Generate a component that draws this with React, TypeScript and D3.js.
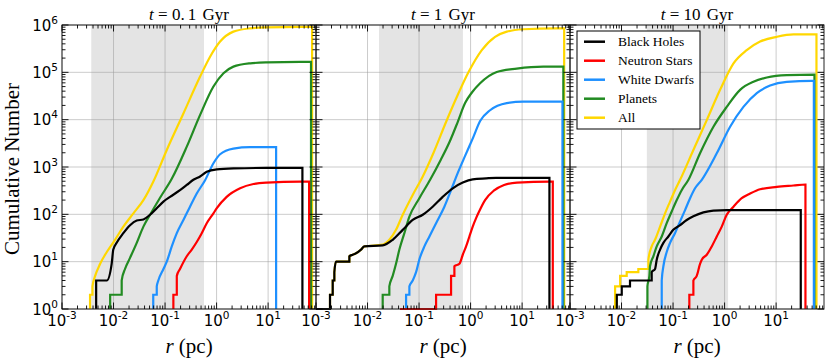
import React from "react";
import * as d3 from "d3";

type Pt = [number, number];

// axis limits and panel labels
const ages = ["0.1", "1", "10"];
const xLimits: [number, number] = [1e-3, 85];
const yLimits: [number, number] = [1, 1e6];
const shadeBands: [number, number][] = [
  [0.0037, 0.57],
  [0.0167, 0.71],
  [0.031, 1.17],
];

const species = ["Black Holes", "Neutron Stars", "White Dwarfs", "Planets", "All"];
const colors = ["#000000", "#ff0000", "#1e90ff", "#228b22", "#ffd700"];

// cumulative counts, [r (pc), N(<r)] -- t = 0.1 Gyr
const bh01: Pt[] = [[0.0046,1],[0.0046,4],[0.0074,4],[0.0092,9],[0.0099,18],[0.0115,25],[0.0155,40],[0.0209,59],[0.0282,74],[0.038,78],[0.0512,98],[0.069,135],[0.093,186],[0.125,234],[0.195,324],[0.264,417],[0.355,537],[0.479,631],[0.644,794],[1.01,891],[2.12,933],[9.42,955],[46.3,955],[46.3,1]];
const ns01: Pt[] = [[0.145,1],[0.145,2],[0.169,2],[0.169,5],[0.195,7],[0.264,13],[0.33,18],[0.412,26],[0.515,40],[0.644,65],[0.869,105],[1.01,135],[1.57,234],[2.86,355],[5.19,437],[9.42,468],[41.8,490],[62.5,490],[62.5,1]];
const wd01: Pt[] = [[0.059,1],[0.059,2],[0.069,2],[0.069,3],[0.074,4],[0.093,7],[0.108,10],[0.135,21],[0.169,40],[0.227,76],[0.305,145],[0.412,275],[0.598,525],[0.869,1200],[1.17,1860],[2.12,2450],[4.48,2630],[14.3,2630],[14.3,1]];
const pl01: Pt[] = [[0.0086,1],[0.0086,2],[0.0144,2],[0.0144,4],[0.0167,7],[0.0209,12],[0.0282,25],[0.038,55],[0.055,112],[0.08,224],[0.135,562],[0.264,2690],[0.479,12600],[0.869,50100],[1.36,95500],[2.12,132000],[4.48,155000],[9.42,162000],[41.8,166000],[68,166000],[68,1]];
const all01: Pt[] = [[0.0035,1],[0.0035,2],[0.0039,2],[0.0039,3],[0.0044,5],[0.0055,9],[0.0074,16],[0.0107,29],[0.0155,55],[0.0243,105],[0.038,200],[0.059,490],[0.108,2290],[0.227,13500],[0.479,81300],[0.748,214000],[1.17,447000],[2.12,724000],[4.48,851000],[9.42,891000],[41.8,912000],[71.4,912000],[71.4,1]];

// t = 1 Gyr
const bh1: Pt[] = [[0.001,1],[0.00187,1],[0.00187,2],[0.00211,2],[0.00211,4],[0.00227,4],[0.00227,6],[0.00244,10],[0.00444,10],[0.00444,13],[0.00515,14],[0.00598,15],[0.00748,18],[0.00869,21],[0.0197,22],[0.0308,29],[0.0482,47],[0.0753,76],[0.118,98],[0.184,145],[0.288,234],[0.451,355],[0.705,468],[1.1,550],[2.0,575],[3.13,589],[33.9,589],[33.9,1]];
const ns1: Pt[] = [[0.0427,1],[0.214,1],[0.214,2],[0.418,2],[0.418,5],[0.485,5],[0.485,8],[0.607,9],[0.705,14],[0.818,21],[0.948,34],[1.1,55],[1.28,83],[1.41,105],[1.91,200],[2.82,316],[4.47,417],[7.94,468],[35.0,490],[39.4,490],[39.4,1]];
const wd1: Pt[] = [[0.056,1],[0.056,2],[0.0649,2],[0.0649,3],[0.0753,4],[0.0875,6],[0.101,11],[0.127,21],[0.159,34],[0.214,65],[0.31,145],[0.418,324],[0.562,741],[0.794,1780],[1.12,4170],[1.53,9330],[2.39,15800],[5.04,22400],[10.6,24000],[60.7,24000],[60.7,1]];
const pl1: Pt[] = [[0.0197,1],[0.0197,2],[0.0265,2],[0.0265,3],[0.0308,5],[0.0357,9],[0.0415,18],[0.0519,40],[0.0649,89],[0.1,214],[0.164,537],[0.263,1410],[0.398,3550],[0.562,8910],[0.782,22400],[1.07,38000],[1.53,58900],[3.22,102000],[7.87,120000],[25.9,132000],[63.1,132000],[63.1,1]];
const all1: Pt[] = [[0.001,1],[0.00187,1],[0.00187,2],[0.00211,2],[0.00211,4],[0.00227,4],[0.00227,6],[0.00244,10],[0.00444,10],[0.00444,13],[0.00515,14],[0.00598,15],[0.00748,18],[0.00869,21],[0.0197,23],[0.0265,29],[0.0357,47],[0.0482,98],[0.0753,257],[0.118,631],[0.191,2000],[0.334,8910],[0.562,33100],[0.908,100000],[1.65,295000],[2.99,562000],[5.04,724000],[10.6,813000],[47.1,851000],[65.5,851000],[65.5,1]];

// t = 10 Gyr
const bh10: Pt[] = [[0.0081,1],[0.0081,2],[0.0101,2],[0.0101,3],[0.0146,3],[0.0146,4],[0.0385,4],[0.0385,6],[0.0447,7],[0.0482,11],[0.056,18],[0.0649,25],[0.0811,34],[0.101,47],[0.137,59],[0.184,76],[0.248,91],[0.388,110],[0.607,120],[1.1,123],[30.1,123],[30.1,1]];
const ns10: Pt[] = [[0.207,1],[0.207,2],[0.248,2],[0.248,4],[0.288,5],[0.334,9],[0.361,11],[0.451,14],[0.564,21],[0.705,34],[0.881,55],[1.1,98],[1.49,145],[2.15,219],[3.13,275],[4.89,339],[10.3,380],[21.7,407],[37.1,427],[37.1,1]];
const wd10: Pt[] = [[0.0603,1],[0.0603,4],[0.0649,8],[0.0753,16],[0.0875,25],[0.109,40],[0.137,71],[0.171,123],[0.214,219],[0.267,355],[0.361,537],[0.705,1950],[1.28,7080],[2.32,18600],[4.22,36300],[7.64,52500],[16.1,63100],[49.3,66100],[54.0,66100],[54.0,1]];
const pl10: Pt[] = [[0.0318,1],[0.0318,3],[0.0347,5],[0.0357,8],[0.0415,13],[0.0482,21],[0.0603,34],[0.0753,65],[0.0942,115],[0.118,200],[0.147,324],[0.199,537],[0.334,1950],[0.607,7080],[1.1,18600],[2.0,42700],[3.63,63100],[6.59,77600],[16.1,87100],[55.5,89100],[55.5,1]];
const all10: Pt[] = [[0.0075,1],[0.0075,3],[0.0094,3],[0.0094,5],[0.0126,5],[0.0126,6],[0.0212,6],[0.0212,7],[0.0332,7],[0.0332,11],[0.0385,21],[0.0447,29],[0.056,55],[0.07,105],[0.0875,186],[0.109,324],[0.137,537],[0.248,2290],[0.451,9770],[0.818,42700],[1.49,155000],[2.69,295000],[4.89,447000],[10.3,562000],[21.7,631000],[60.7,631000],[60.7,1]];

const panels: Pt[][][] = [
  [bh01, ns01, wd01, pl01, all01],
  [bh1, ns1, wd1, pl1, all1],
  [bh10, ns10, wd10, pl10, all10],
];

const W = 830;
const H = 359;
const lefts = [62, 316, 570];
const PW = 254;
const TOP = 25;
const BOT = 309;
const serif = "'Liberation Serif', 'Times New Roman', serif";
const sans = "'DejaVu Sans', sans-serif";

const isMajor = (v: number) => Math.abs(Math.log10(v) - Math.round(Math.log10(v))) < 1e-6;

const Pow = ({ e }: { e: number }) => (
  <>
    <tspan>10</tspan>
    <tspan fontSize={10.5} dy={-7}>{e < 0 ? `-${-e}` : `${e}`}</tspan>
  </>
);

const Title = ({ age }: { age: string }) => {
  const [whole, frac] = age.split(".");
  return (
    <>
      <tspan fontStyle="italic">t</tspan>
      <tspan>{" = " + whole + (frac ? "." : "")}</tspan>
      {frac && <tspan dx={3}>{frac}</tspan>}
      <tspan dx={2}> Gyr</tspan>
    </>
  );
};

const Panel = ({ idx }: { idx: number }) => {
  const x0 = lefts[idx];
  const x = d3.scaleLog().domain(xLimits).range([x0, x0 + PW]);
  const y = d3.scaleLog().domain(yLimits).range([BOT, TOP]);
  const line = d3
    .line<Pt>()
    .x((d) => x(d[0]))
    .y((d) => y(d[1]))
    .curve(d3.curveMonotoneX);

  const xt = x.ticks();
  const yt = y.ticks();
  const xMaj = xt.filter(isMajor);
  const yMaj = yt.filter(isMajor);
  const band = shadeBands[idx];
  const series = panels[idx];
  const order = [4, 3, 2, 1, 0];

  return (
    <g>
      <rect x={x(band[0])} y={TOP} width={x(band[1]) - x(band[0])} height={BOT - TOP} fill="#e4e4e4" />
      {xMaj.map((v) => (
        <line key={"gx" + v} x1={x(v)} x2={x(v)} y1={TOP} y2={BOT} stroke="#999" strokeOpacity={0.5} strokeWidth={1} />
      ))}
      {yMaj.map((v) => (
        <line key={"gy" + v} x1={x0} x2={x0 + PW} y1={y(v)} y2={y(v)} stroke="#999" strokeOpacity={0.5} strokeWidth={1} />
      ))}
      {order.map((k) => (
        <path key={k} d={line(series[k]) || ""} fill="none" stroke={colors[k]} strokeWidth={2.2} strokeLinejoin="miter" />
      ))}
      <rect x={x0} y={TOP} width={PW} height={BOT - TOP} fill="none" stroke="#222" strokeWidth={1} />
      {xt.map((v) => {
        const L = isMajor(v) ? 6.5 : 3.5;
        return (
          <g key={"tx" + v} stroke="#000" strokeWidth={0.9}>
            <line x1={x(v)} x2={x(v)} y1={BOT} y2={BOT - L} />
            <line x1={x(v)} x2={x(v)} y1={TOP} y2={TOP + L} />
          </g>
        );
      })}
      {yt.map((v) => {
        const L = isMajor(v) ? 6.5 : 3.5;
        return (
          <g key={"ty" + v} stroke="#000" strokeWidth={0.9}>
            <line x1={x0} x2={x0 + L} y1={y(v)} y2={y(v)} />
            <line x1={x0 + PW} x2={x0 + PW - L} y1={y(v)} y2={y(v)} />
          </g>
        );
      })}
      {xMaj.map((v) => (
        <text key={"lx" + v} x={x(v)} y={326} textAnchor="middle" fontFamily={sans} fontSize={15}>
          <Pow e={Math.round(Math.log10(v))} />
        </text>
      ))}
      {idx === 0 &&
        yMaj.map((v) => (
          <text key={"ly" + v} x={x0 - 4} y={y(v) + 5.5} textAnchor="end" fontFamily={sans} fontSize={15}>
            <Pow e={Math.round(Math.log10(v))} />
          </text>
        ))}
      <text x={x0 + PW / 2} y={20} textAnchor="middle" fontFamily={serif} fontSize={17}>
        <Title age={ages[idx]} />
      </text>
      <text x={x0 + PW / 2} y={353} textAnchor="middle" fontFamily={serif} fontSize={21}>
        <tspan fontStyle="italic">r</tspan>
        <tspan> (pc)</tspan>
      </text>
    </g>
  );
};

const Legend = () => {
  const lx = 577;
  const ly = 31;
  return (
    <g>
      <rect x={lx} y={ly} width={123} height={98} fill="#fff" stroke="#000" strokeWidth={1} />
      {species.map((s, i) => (
        <g key={s}>
          <line x1={584} x2={605} y1={41.7 + i * 19} y2={41.7 + i * 19} stroke={colors[i]} strokeWidth={2.5} />
          <text x={618} y={46.2 + i * 19} fontFamily={serif} fontSize={13.5}>
            {s}
          </text>
        </g>
      ))}
    </g>
  );
};

export default function App() {
  return (
    <svg width={W} height={H} style={{ position: "absolute", left: 0, top: 0, background: "#fff" }}>
      <rect width={W} height={H} fill="#fff" />
      {[0, 1, 2].map((i) => (
        <Panel key={i} idx={i} />
      ))}
      <text transform="translate(19,169) rotate(-90)" textAnchor="middle" fontFamily={serif} fontSize={21}>
        Cumulative Number
      </text>
      <Legend />
    </svg>
  );
}
